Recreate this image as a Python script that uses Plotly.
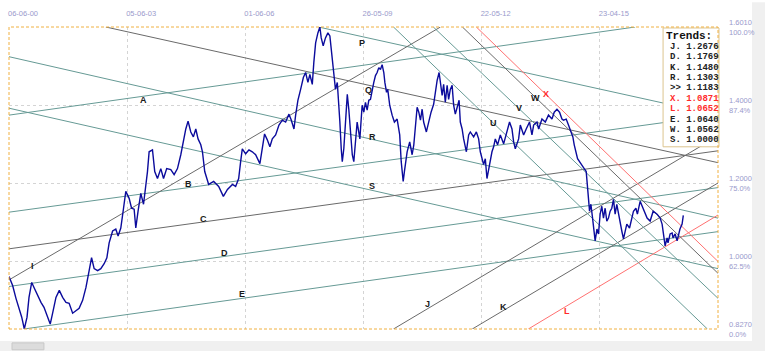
import plotly.graph_objects as go

# ---------------- data ----------------
# bar index (trading days from 06-06-00) and EUR/USD close
bars = [0, 24, 46, 66, 84, 101, 119, 132, 150, 165, 189, 211, 231, 255, 272, 288, 310, 332, 354, 376,
        397, 420, 442, 463, 486, 508, 529, 545, 562, 585, 606, 628, 646, 661, 684, 705, 720, 738, 756, 771,
        793, 809, 826, 837, 852, 870, 888, 903, 914, 925, 947, 962, 980, 1002, 1020, 1041, 1068, 1090, 1112, 1134,
        1152, 1167, 1182, 1200, 1217, 1233, 1248, 1266, 1277, 1292, 1318, 1351, 1384, 1415, 1442, 1475, 1496, 1516, 1529, 1540,
        1562, 1584, 1606, 1628, 1656, 1672, 1687, 1705, 1722, 1738, 1760, 1782, 1804, 1826, 1848, 1863, 1881, 1892, 1907, 1925,
        1943, 1958, 1973, 1986, 2002, 2012, 2024, 2039, 2052, 2061, 2074, 2089, 2105, 2118, 2127, 2136, 2144, 2155, 2167, 2177,
        2184, 2193, 2200, 2210, 2221, 2233, 2243, 2254, 2266, 2276, 2287, 2298, 2316, 2331, 2342, 2353, 2364, 2375, 2386, 2397,
        2408, 2419, 2430, 2441, 2452, 2463, 2474, 2481, 2492, 2500, 2513, 2529, 2544, 2562, 2579, 2589, 2602, 2610, 2617, 2628,
        2645, 2661, 2672, 2683, 2694, 2705, 2716, 2727, 2737, 2755, 2770, 2786, 2803, 2815, 2826, 2839, 2848, 2859, 2869, 2880,
        2892, 2902, 2913, 2925, 2935, 2946, 2962, 2971, 2979, 2991, 3001, 3019, 3034, 3045, 3067, 3085, 3100, 3111, 3133, 3144,
        3155, 3166, 3177, 3188, 3199, 3210, 3225, 3243, 3265, 3287, 3304, 3320, 3331, 3342, 3364, 3375, 3397, 3414, 3436, 3452,
        3463, 3485, 3496, 3518, 3540, 3561, 3584, 3599, 3617, 3634, 3650, 3660, 3678, 3693, 3709, 3722, 3731, 3742, 3753, 3766,
        3782, 3797, 3810, 3819, 3825, 3832, 3841, 3852, 3863, 3869, 3881, 3891, 3902, 3913, 3924, 3935, 3946, 3957, 3968, 3979,
        3990, 4001, 4012, 4023, 4034, 4045, 4056, 4067, 4078, 4096, 4111, 4122, 4138, 4148, 4166, 4186, 4212, 4232, 4252, 4278,
        4298, 4311, 4318, 4331, 4344, 4350, 4364, 4377, 4383, 4397, 4410, 4416, 4429, 4443, 4451]
prices = [0.9614, 0.9386, 0.9056, 0.8827, 0.8573, 0.8270, 0.8573, 0.9081, 0.9462, 0.9335, 0.9132, 0.8954, 0.8827, 0.8573, 0.8396, 0.8675, 0.9081, 0.9259, 0.9081, 0.8954,
          0.8929, 0.8675, 0.8751, 0.8802, 0.9005, 0.9335, 0.9767, 1.0096, 0.9817, 0.9767, 0.9817, 0.9944, 1.0096, 1.0477, 1.0782, 1.0832, 1.0655, 1.0858, 1.1365, 1.1797,
          1.1619, 1.1365, 1.1340, 1.0858, 1.1289, 1.1746, 1.1467, 1.1924, 1.2305, 1.2812, 1.2863, 1.2305, 1.2127, 1.2381, 1.2127, 1.2381, 1.2355, 1.2228, 1.2381, 1.2736,
          1.3142, 1.3396, 1.3599, 1.3320, 1.3193, 1.3396, 1.3142, 1.2990, 1.2812, 1.2305, 1.1975, 1.2051, 1.1924, 1.1670, 1.1848, 1.1975, 1.1924, 1.2127, 1.2558, 1.2888,
          1.2761, 1.2863, 1.2812, 1.2736, 1.2508, 1.2888, 1.3269, 1.3117, 1.2939, 1.3142, 1.3244, 1.3497, 1.3624, 1.3574, 1.3777, 1.3624, 1.3396, 1.3751, 1.4132, 1.4411,
          1.4716, 1.4843, 1.4589, 1.4792, 1.4538, 1.5096, 1.5604, 1.5858, 1.6010, 1.5731, 1.5528, 1.5731, 1.5858, 1.5782, 1.5426, 1.5096, 1.4716, 1.4411, 1.4589, 1.4081,
          1.3574, 1.2888, 1.2558, 1.2888, 1.3574, 1.4284, 1.3903, 1.3320, 1.2736, 1.2558, 1.3066, 1.3574, 1.3142, 1.4005, 1.3827, 1.4081, 1.3878, 1.4132, 1.4157, 1.4411,
          1.4589, 1.4766, 1.4843, 1.4969, 1.4919, 1.5046, 1.4843, 1.4589, 1.4335, 1.4411, 1.4005, 1.3751, 1.3574, 1.3650, 1.3244, 1.2558, 1.2051, 1.2305, 1.2558, 1.2812,
          1.3066, 1.2736, 1.2990, 1.3574, 1.3954, 1.3827, 1.3624, 1.3903, 1.3574, 1.3320, 1.3574, 1.3827, 1.4030, 1.4411, 1.4639, 1.4843, 1.4513, 1.4259, 1.4538, 1.4081,
          1.4513, 1.4157, 1.4411, 1.4513, 1.4005, 1.3777, 1.4005, 1.4132, 1.3574, 1.3396, 1.3142, 1.2812, 1.3244, 1.3320, 1.3193, 1.3320, 1.3142, 1.2812, 1.2482, 1.2634,
          1.2127, 1.2381, 1.2609, 1.2812, 1.2939, 1.3142, 1.2990, 1.3244, 1.3015, 1.3320, 1.3574, 1.3396, 1.3066, 1.2888, 1.3142, 1.3497, 1.3244, 1.3396, 1.3574, 1.3244,
          1.3497, 1.3574, 1.3396, 1.3650, 1.3574, 1.3751, 1.3650, 1.3827, 1.3903, 1.3827, 1.3650, 1.3624, 1.3650, 1.3497, 1.3320, 1.3193, 1.2990, 1.2812, 1.2634, 1.2558,
          1.2482, 1.2381, 1.2305, 1.1975, 1.1619, 1.1289, 1.1467, 1.1112, 1.0782, 1.0528, 1.0832, 1.0706, 1.1213, 1.1416, 1.1112, 1.1365, 1.1036, 1.1112, 1.1289, 1.1365,
          1.1594, 1.1213, 1.1467, 1.1213, 1.0959, 1.0782, 1.0579, 1.0782, 1.0959, 1.0858, 1.1112, 1.1289, 1.1365, 1.1213, 1.1543, 1.1365, 1.1112, 1.1036, 1.1289, 1.1213,
          1.1112, 1.0959, 1.0706, 1.0401, 1.0604, 1.0477, 1.0706, 1.0731, 1.0604, 1.0706, 1.0528, 1.0655, 1.0832, 1.0959, 1.1183]

x_max = 4680
y_min, y_max = 0.8270, 1.6010
date_ticks = [0, 780, 1560, 2340, 3120, 3900]
date_labels = ["06-06-00", "05-06-03", "01-06-06", "26-05-09", "22-05-12", "23-04-15"]
price_ticks = [0.8270, 1.0, 1.2, 1.4, 1.6010]
price_labels = ["0.8270<br>0.0%", "1.0000<br>62.5%", "1.2000<br>75.0%", "1.4000<br>87.4%", "1.6010<br>100.0%"]

# trend lines: name, (bar0, price0), (bar1, price1), colour class
trend_names = ["Q", "P", "R", "S", "A", "B", "C", "D", "E", "I", "J", "K", "L", "U", "V", "W", "X"]
trend_x0 = [639, 2043, 0, 0, 0, 0, 0, 0, 99, 0, 2538, 3058, 3428, 2538, 2801, 2993, 3085]
trend_y0 = [1.601, 1.601, 1.5249, 1.3929, 1.3751, 1.1264, 1.0325, 0.936, 0.827, 0.9528, 0.827, 0.827, 0.827, 1.601, 1.601, 1.601, 1.601]
trend_x1 = [4680, 4680, 4680, 4680, 4133, 4680, 4680, 4680, 4680, 2848, 4680, 4680, 4680, 4610, 4680, 4680, 4680]
trend_y1 = [1.2533, 1.3751, 1.1112, 0.9817, 1.601, 1.3751, 1.2837, 1.1894, 1.0766, 1.601, 1.3218, 1.2013, 1.1191, 0.827, 0.9056, 0.9697, 1.0001]
trend_kind = ["dark", "teal", "teal", "teal", "teal", "teal", "dark", "teal", "teal", "dark", "dark", "dark", "red", "teal", "teal", "dark", "red"]

# line label positions (bar, price)
label_names = ["A", "B", "C", "D", "E", "I", "J", "K", "L", "P", "Q", "R", "S", "U", "V", "W", "X"]
label_x = [890, 1186, 1285, 1424, 1536, 158, 2762, 3263, 3685, 2333, 2373, 2399, 2399, 3197, 3368, 3474, 3546]
label_y = [1.4132, 1.1975, 1.1086, 1.0223, 0.9157, 0.9893, 0.8904, 0.8827, 0.8726, 1.5604, 1.4386, 1.3193, 1.1924, 1.3548, 1.3929, 1.4183, 1.4284]

# "Trends:" box rows
trend_rows = ["J. 1.2676", "D. 1.1769", "K. 1.1480", "R. 1.1303", ">> 1.1183", "X. 1.0871", "L. 1.0652", "E. 1.0640", "W. 1.0562", "S. 1.0000"]
trend_row_red = [False, False, False, False, False, True, True, False, False, False]

# ---------------- styles ----------------
colors = {"dark": "#6a6a6a", "teal": "#669a95", "red": "#ff7070"}
axis_font = dict(family="Liberation Sans, Arial, sans-serif", size=7.5, color="#9a9acc")

W, H = 765, 351
ml, mr, mt, mb = 8, 47, 24, 22
pw, ph = W - ml - mr, H - mt - mb

def px2paper_x(px):
    return (px - ml) / pw

def py2paper_y(py):
    return (H - mb - py) / ph

fig = go.Figure()

for i, n in enumerate(trend_names):
    fig.add_trace(go.Scatter(x=[trend_x0[i], trend_x1[i]], y=[trend_y0[i], trend_y1[i]], mode="lines",
                             line=dict(color=colors[trend_kind[i]], width=1), hoverinfo="skip", showlegend=False))

fig.add_trace(go.Scatter(x=bars, y=prices, mode="lines", line=dict(color="#0b0b9c", width=1.4),
                         showlegend=False, hoverinfo="skip"))

annotations = []
for i, n in enumerate(label_names):
    red = n in ("L", "X")
    annotations.append(dict(x=label_x[i], y=label_y[i], xref="x", yref="y", text="<b>%s</b>" % n, showarrow=False,
                            font=dict(family="Liberation Sans, Arial, sans-serif", size=9,
                                      color="#ff2a2a" if red else "#1a1a1a")))

# Trends box
box_l, box_r, box_t, box_b = 663, 719, 25, 145
annotations.append(dict(x=px2paper_x(box_l + 1), y=py2paper_y(33), xref="paper", yref="paper", xanchor="left",
                        yanchor="middle", text="<b>Trends:</b>", showarrow=False,
                        font=dict(family="Courier New, Liberation Mono, monospace", size=11, color="#111111")))
for k, row in enumerate(trend_rows):
    annotations.append(dict(x=px2paper_x(box_l + 5), y=py2paper_y(44 + k * 10.5), xref="paper", yref="paper",
                            xanchor="left", yanchor="middle", text="<b>%s</b>" % row.replace(">", "&gt;"), showarrow=False,
                            font=dict(family="Courier New, Liberation Mono, monospace", size=9,
                                      color="#ff2a2a" if trend_row_red[k] else "#222222")))

shapes = [
    # scrollbar strips (window chrome)
    dict(type="rect", xref="paper", yref="paper", x0=px2paper_x(752), x1=px2paper_x(766), y0=py2paper_y(352),
         y1=py2paper_y(-1), fillcolor="#f0f0f0", line=dict(width=0), layer="below"),
    dict(type="rect", xref="paper", yref="paper", x0=px2paper_x(-1), x1=px2paper_x(766), y0=py2paper_y(352),
         y1=py2paper_y(341), fillcolor="#f0f0f0", line=dict(width=0), layer="below"),
    dict(type="rect", xref="paper", yref="paper", x0=px2paper_x(11), x1=px2paper_x(43), y0=py2paper_y(350),
         y1=py2paper_y(343), fillcolor="#dcdcdc", line=dict(width=1, color="#c8c8c8"), layer="below"),
    # Trends box
    dict(type="rect", xref="paper", yref="paper", x0=px2paper_x(box_l), x1=px2paper_x(box_r), y0=py2paper_y(box_b),
         y1=py2paper_y(box_t), fillcolor="white", line=dict(width=1, color="#dcc48e"), layer="above"),
    # dashed border of plot area
    dict(type="rect", xref="paper", yref="paper", x0=0, x1=1, y0=0, y1=1,
         line=dict(width=1, color="#f0b040", dash="3px,2px"), layer="above"),
]

fig.update_layout(
    width=W, height=H, margin=dict(l=ml, r=mr, t=mt, b=mb, pad=0),
    paper_bgcolor="white", plot_bgcolor="white",
    xaxis=dict(range=[0, x_max], side="top", tickvals=date_ticks, ticktext=date_labels, tickfont=axis_font,
               showgrid=True, gridcolor="#d4d4d4", griddash="dot", gridwidth=1, zeroline=False, showline=False,
               ticks="", ticklabelshift=14, ticklabelstandoff=9, fixedrange=True),
    yaxis=dict(range=[y_min, y_max], side="right", tickvals=price_ticks, ticktext=price_labels, tickfont=axis_font,
               showgrid=True, gridcolor="#d4d4d4", griddash="dot", gridwidth=1, zeroline=False, showline=False,
               ticks="", ticklabelstandoff=10, fixedrange=True),
    annotations=annotations, shapes=shapes, showlegend=False,
)

fig.write_html("out.html")
